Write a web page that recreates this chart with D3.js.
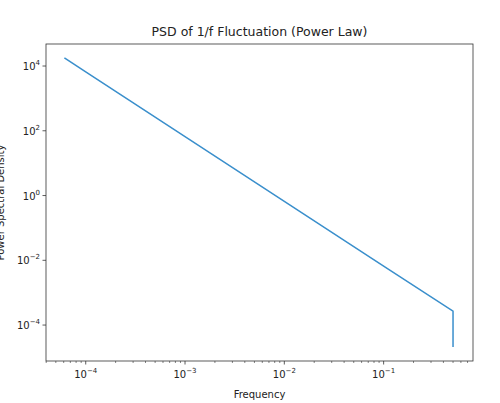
<!DOCTYPE html>
<html><head><meta charset="utf-8">
<script src="https://cdn.jsdelivr.net/npm/d3@7"></script>
<style>body{margin:0;background:#fff}text{font-family:"DejaVu Sans",sans-serif;fill:#222}</style>
</head><body><svg id="chart" width="500" height="403"></svg>
<script>
// values
var freqs = [6.1e-5, 1e-4, 1e-3, 1e-2, 1e-1, 0.4999, 0.5];
var psd = [1.8e4, 6.6e3, 6.6e1, 6.6e-1, 6.6e-3, 2.7e-4, 2.1e-5];
var xTicks = [1e-4, 1e-3, 1e-2, 1e-1];
var yTicks = [1e4, 1e2, 1e0, 1e-2, 1e-4];

var svg = d3.select('#chart');
var plotLeft = 46, plotRight = 473, plotTop = 44, plotBottom = 361;

var xScale = d3.scaleLog().domain([Math.pow(10, -4.40), Math.pow(10, -0.10)]).range([plotLeft, plotRight]);
var yScale = d3.scaleLog().domain([Math.pow(10, -5.11), Math.pow(10, 4.68)]).range([plotBottom, plotTop]);

function sup(t, base, exp) {
    t.text(base).append('tspan').attr('dy', -5).attr('font-size', 7).text(exp);
}
function expOf(v) { return String(Math.round(Math.log10(v))).replace('-', '\u2212'); }

// minor x ticks
var minor = [];
for (var e = -5; e <= 0; e++) for (var m = 2; m <= 9; m++) {
    var v = m * Math.pow(10, e);
    if (xScale(v) >= plotLeft && xScale(v) <= plotRight) minor.push(v);
}
svg.selectAll('.minor').data(minor).join('line')
    .attr('x1', d => xScale(d)).attr('x2', d => xScale(d))
    .attr('y1', plotBottom).attr('y2', plotBottom + 2).attr('stroke', '#333').attr('stroke-width', 0.6);

svg.selectAll('.xt').data(xTicks).join('line')
    .attr('x1', d => xScale(d)).attr('x2', d => xScale(d))
    .attr('y1', plotBottom).attr('y2', plotBottom + 3.5).attr('stroke', '#333').attr('stroke-width', 0.8);
svg.selectAll('.xl').data(xTicks).join('text')
    .attr('x', d => xScale(d)).attr('y', plotBottom + 17).attr('text-anchor', 'middle').attr('font-size', 10)
    .each(function (d) { sup(d3.select(this), '10', expOf(d)); });

svg.selectAll('.yt').data(yTicks).join('line')
    .attr('x1', plotLeft - 3.5).attr('x2', plotLeft)
    .attr('y1', d => yScale(d)).attr('y2', d => yScale(d)).attr('stroke', '#333').attr('stroke-width', 0.8);
svg.selectAll('.yl').data(yTicks).join('text')
    .attr('x', plotLeft - 6).attr('y', d => yScale(d) + 4).attr('text-anchor', 'end').attr('font-size', 10)
    .each(function (d) { sup(d3.select(this), '10', expOf(d)); });

// line
var line = d3.line().x((d, i) => xScale(freqs[i])).y(d => yScale(d));
svg.append('path').datum(psd).attr('d', line)
    .attr('fill', 'none').attr('stroke', '#3a8fcc').attr('stroke-width', 1.5);

svg.append('rect').attr('x', plotLeft).attr('y', plotTop).attr('width', plotRight - plotLeft).attr('height', plotBottom - plotTop)
    .attr('fill', 'none').attr('stroke', '#333').attr('stroke-width', 0.8);

svg.append('text').attr('x', (plotLeft + plotRight) / 2).attr('y', 36).attr('text-anchor', 'middle')
    .attr('font-size', 12.5).text('PSD of 1/f Fluctuation (Power Law)');
svg.append('text').attr('x', (plotLeft + plotRight) / 2).attr('y', 398).attr('text-anchor', 'middle')
    .attr('font-size', 10).text('Frequency');
svg.append('text').attr('transform', 'translate(4,' + (plotTop + plotBottom) / 2 + ') rotate(-90)')
    .attr('text-anchor', 'middle').attr('font-size', 10).text('Power Spectral Density');
</script></body></html>
